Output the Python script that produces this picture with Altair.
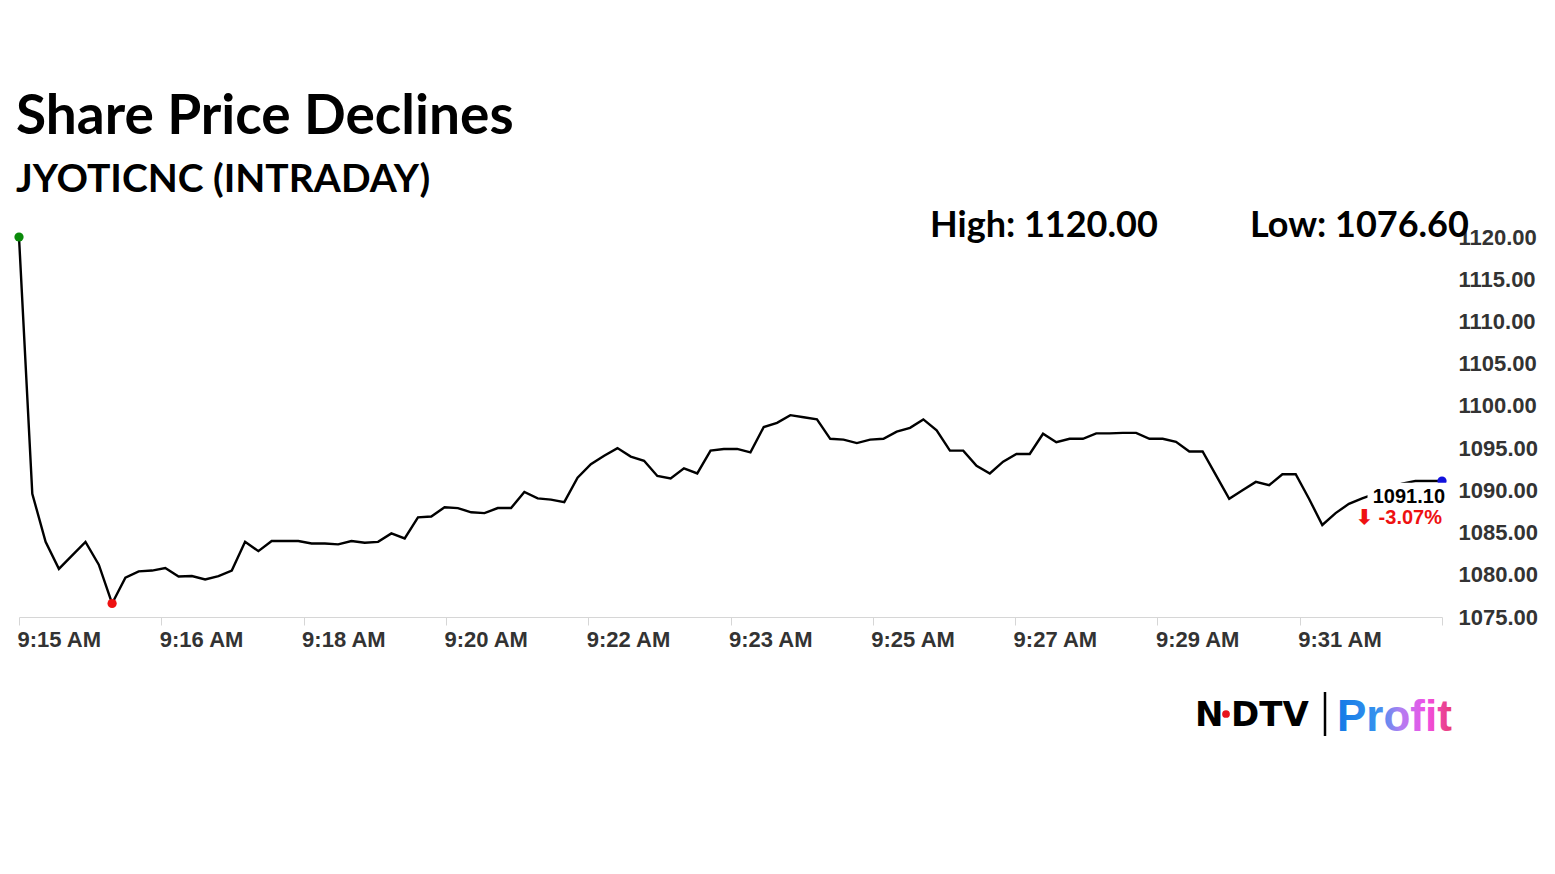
import json
import altair as alt
import pandas as pd

# ---------------- data ----------------
title_text = "Share Price Declines"
subtitle_text = "JYOTICNC (INTRADAY)"

prices = [
    1120.0, 1089.6, 1083.9, 1080.7, 1082.3, 1083.9, 1081.2, 1076.6, 1079.65, 1080.4,
    1080.5, 1080.8, 1079.8, 1079.85, 1079.45, 1079.85, 1080.5, 1083.9, 1082.8, 1084.0,
    1084.0, 1084.0, 1083.7, 1083.7, 1083.6, 1084.0, 1083.8, 1083.9, 1084.9, 1084.3,
    1086.8, 1086.9, 1088.0, 1087.9, 1087.4, 1087.3, 1087.9, 1087.9, 1089.8, 1089.05,
    1088.9, 1088.6, 1091.5, 1093.1, 1094.1, 1095.0, 1094.0, 1093.5, 1091.7, 1091.4,
    1092.6, 1092.0, 1094.7, 1094.9, 1094.9, 1094.5, 1097.5, 1098.0, 1098.9, 1098.65,
    1098.4, 1096.1, 1096.0, 1095.6, 1096.0, 1096.1, 1096.95, 1097.4, 1098.4, 1097.1,
    1094.7, 1094.7, 1092.9, 1092.0, 1093.4, 1094.3, 1094.3, 1096.7, 1095.7, 1096.1,
    1096.1, 1096.75, 1096.75, 1096.8, 1096.8, 1096.1, 1096.1, 1095.75, 1094.6, 1094.6,
    1091.8, 1089.0, 1090.0, 1091.0, 1090.6, 1091.9, 1091.9, 1089.0, 1085.9, 1087.3,
    1088.4, 1089.05, 1089.6, 1090.3, 1090.8, 1091.1, 1091.1, 1091.1,
]
session_start = "2024-01-01 09:15:00"
step_seconds = 10

x_tick_labels = ["9:15 AM", "9:16 AM", "9:18 AM", "9:20 AM", "9:22 AM", "9:23 AM",
                 "9:25 AM", "9:27 AM", "9:29 AM", "9:31 AM", ""]
y_tick_values = [1075, 1080, 1085, 1090, 1095, 1100, 1105, 1110, 1115, 1120]
y_domain = [1075, 1120]

high_value = 1120.00
low_value = 1076.60
last_price = 1091.10
change_pct = -3.07

# ---------------- tables ----------------
times = pd.date_range(session_start, periods=len(prices), freq=f"{step_seconds}s")
fmt = "%Y-%m-%dT%H:%M:%S"
df = pd.DataFrame({"time": times.strftime(fmt), "price": prices})

i_hi = prices.index(max(prices))
i_lo = prices.index(min(prices))
i_last = len(prices) - 1
pts = pd.DataFrame({
    "time": [times[i_hi].strftime(fmt), times[i_lo].strftime(fmt), times[i_last].strftime(fmt)],
    "price": [prices[i_hi], prices[i_lo], prices[i_last]],
    "col": ["#0a8a0a", "#ee1111", "#1111dd"],
})

last = pd.DataFrame({"time": [times[i_last].strftime(fmt)], "price": [last_price],
                     "label": [f"{last_price:.2f}"],
                     "chg": [f"\u2b07 {change_pct:.2f}%"]})

# white label background behind the last-price annotation
mask = pd.DataFrame({
    "x0": [(times[i_last - 6] + pd.Timedelta(seconds=4)).strftime(fmt)],
    "x1": [(times[i_last] + pd.Timedelta(seconds=6)).strftime(fmt)],
    "y0": [last_price - 0.2],
    "y1": [last_price - 7.0],
})

# axis tick positions: 10 even divisions of the session
total = (times[-1] - times[0]).total_seconds()
tick_dt = []
for k in range(11):
    t = times[0] + pd.Timedelta(seconds=total * k / 10)
    tick_dt.append(alt.DateTime(year=t.year, month=t.month, date=t.day,
                                hours=t.hour, minutes=t.minute, seconds=t.second))
dom = [alt.DateTime(year=t.year, month=t.month, date=t.day, hours=t.hour,
                    minutes=t.minute, seconds=t.second) for t in (times[0], times[-1])]

label_expr = f"{json.dumps(x_tick_labels)}[round(datum.index * {len(x_tick_labels) - 1})]"

AX_FONT = "Liberation Sans"
W, H = 1423, 380

x_enc = alt.X("time:T", scale=alt.Scale(domain=dom),
              axis=alt.Axis(values=tick_dt, labelExpr=label_expr, title=None, grid=False,
                            labelAlign="left", labelBaseline="top", labelFont=AX_FONT,
                            labelFontSize=22, labelFontWeight="bold", labelColor="#333333",
                            labelPadding=4, labelOffset=-2, tickSize=8, tickColor="#d6d6d6",
                            domainColor="#d6d6d6", labelOverlap=False, labelFlush=False))
y_enc = alt.Y("price:Q", scale=alt.Scale(domain=y_domain, nice=False, zero=False),
              axis=alt.Axis(orient="right", values=y_tick_values, format=".2f", title=None,
                            grid=False, ticks=False, domain=False, labelAlign="left",
                            labelBaseline="middle", labelFont=AX_FONT, labelFontSize=22,
                            labelFontWeight="bold", labelColor="#333333", labelPadding=16))

line = alt.Chart(df).mark_line(color="black", strokeWidth=2.4).encode(x=x_enc, y=y_enc)

dots = alt.Chart(pts).mark_point(filled=True, opacity=1, size=85, shape="circle").encode(
    x="time:T", y="price:Q", color=alt.Color("col:N", scale=None))

cover = alt.Chart(mask).mark_rect(color="white").encode(
    x="x0:T", x2="x1:T", y="y0:Q", y2="y1:Q")

last_lbl = alt.Chart(last).mark_text(align="right", baseline="middle", dx=3, dy=16,
                                     font=AX_FONT, fontSize=20, fontWeight="bold",
                                     color="black").encode(x="time:T", y="price:Q", text="label:N")
chg_lbl = alt.Chart(last).mark_text(align="right", baseline="middle", dx=0, dy=37,
                                    font=AX_FONT, fontSize=20, fontWeight="bold",
                                    color="#ee1111").encode(x="time:T", y="price:Q", text="chg:N")

HL_FONT = "Lato"
high_txt = alt.Chart(pd.DataFrame({"t": [f"High: {high_value:.2f}"]})).mark_text(
    align="left", baseline="alphabetic", font=HL_FONT, fontSize=36, fontWeight="bold",
    color="black").encode(x=alt.value(911), y=alt.value(0), text="t:N")
low_txt = alt.Chart(pd.DataFrame({"t": [f"Low: {low_value:.2f}"]})).mark_text(
    align="left", baseline="alphabetic", font=HL_FONT, fontSize=36, fontWeight="bold",
    color="black").encode(x=alt.value(1231), y=alt.value(0), text="t:N")

# NDTV | Profit logo
logo_n = alt.Chart(pd.DataFrame({"t": ["N"]})).mark_text(
    align="left", baseline="alphabetic", font="DejaVu Sans", fontSize=34, fontWeight="bold",
    color="black").encode(x=alt.value(1176), y=alt.value(489), text="t:N")
logo_dtv = alt.Chart(pd.DataFrame({"t": ["DTV"]})).mark_text(
    align="left", baseline="alphabetic", font="DejaVu Sans", fontSize=34, fontWeight="bold",
    color="black").encode(x=alt.value(1212), y=alt.value(489), text="t:N")
logo_dot = alt.Chart(pd.DataFrame({"t": ["dot"]})).mark_point(
    filled=True, opacity=1, size=60, shape="circle", color="#e8141c").encode(
    x=alt.value(1207), y=alt.value(477))
logo_bar = alt.Chart(pd.DataFrame({"t": ["bar"]})).mark_rule(
    color="black", strokeWidth=2.5).encode(x=alt.value(1306), y=alt.value(455), y2=alt.value(499))
grad = alt.LinearGradient(gradient="linear", x1=0, x2=1, y1=0, y2=0, stops=[
    alt.GradientStop(color="#1479e6", offset=0),
    alt.GradientStop(color="#3592ee", offset=0.35),
    alt.GradientStop(color="#b07ff2", offset=0.55),
    alt.GradientStop(color="#f24fe6", offset=0.78),
    alt.GradientStop(color="#e83d6f", offset=1),
])
logo_profit = alt.Chart(pd.DataFrame({"t": ["Profit"]})).mark_text(
    align="left", baseline="alphabetic", font="Liberation Sans", fontSize=44, fontWeight="bold",
    color=grad).encode(x=alt.value(1318), y=alt.value(494), text="t:N")

chart = alt.layer(
    line, dots, cover, last_lbl, chg_lbl, high_txt, low_txt,
    logo_n, logo_dtv, logo_dot, logo_bar, logo_profit,
).properties(
    width=W, height=H,
    background="white",
    title=alt.TitleParams(text=title_text, subtitle=subtitle_text, anchor="start",
                          frame="group", font=HL_FONT, fontSize=55, fontWeight="bold",
                          color="black", subtitleFont=HL_FONT, subtitleFontSize=39,
                          subtitleFontWeight="bold", subtitleColor="black",
                          subtitlePadding=15, offset=7, dx=-3),
    autosize=alt.AutoSizeParams(type="none"),
    padding={"left": 11, "top": 229, "right": 100, "bottom": 140},
).configure_view(stroke=None)

chart.save("out.html", embed_options={"renderer": "svg", "actions": False})
